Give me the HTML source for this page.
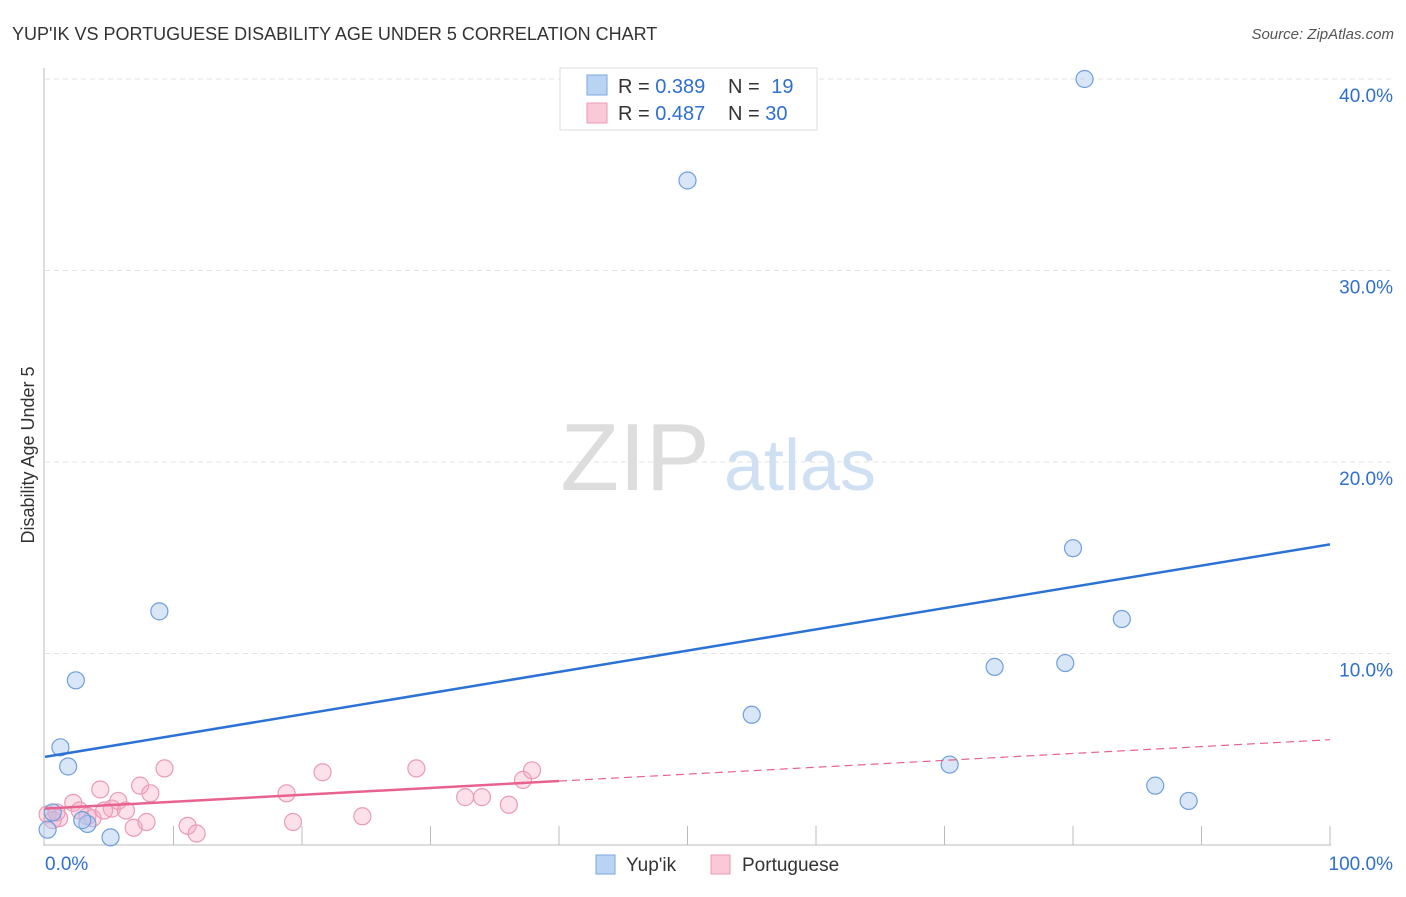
<!DOCTYPE html>
<html><head><meta charset="utf-8">
<style>
body{margin:0;background:#fff;font-family:"Liberation Sans",sans-serif;}
svg text{font-family:"Liberation Sans",sans-serif;}
</style></head>
<body>
<svg id="chart" width="1406" height="892" viewBox="0 0 1406 892">
<text x="12" y="40" font-size="18" fill="#333">YUP'IK VS PORTUGUESE DISABILITY AGE UNDER 5 CORRELATION CHART</text>
<text x="1394" y="39" font-size="15" fill="#555" font-style="italic" text-anchor="end">Source: ZipAtlas.com</text>
<text transform="translate(34,455) rotate(-90)" font-size="18" fill="#333" text-anchor="middle">Disability Age Under 5</text>
<g id="grid"></g>
<g>
<text x="635" y="490" font-size="96" fill="#ddd" font-family="Liberation Serif,serif" text-anchor="middle">ZIP</text>
<text x="800" y="490" font-size="72" fill="#cfe0f3" text-anchor="middle">atlas</text>
</g>
<g id="axes"></g>
<g id="marks"></g>
<g>
<rect x="560" y="68" width="257" height="62" fill="#fff" stroke="#ddd"/>
<rect x="587" y="75" width="20" height="20" fill="#b9d3f3" stroke="#7aa7e0"/>
<rect x="587" y="103" width="20" height="20" fill="#f9c9d8" stroke="#ec9ab4"/>
<text x="618" y="93" font-size="20" fill="#333">R = <tspan fill="#2f6fd0">0.389</tspan></text>
<text x="728" y="93" font-size="20" fill="#333">N = <tspan fill="#2f6fd0" dx="6">19</tspan></text>
<text x="618" y="120" font-size="20" fill="#333">R = <tspan fill="#2f6fd0">0.487</tspan></text>
<text x="728" y="120" font-size="20" fill="#333">N = <tspan fill="#2f6fd0">30</tspan></text>
</g>
<g>
<rect x="596" y="855" width="19" height="19" fill="#b9d3f3" stroke="#7aa7e0"/>
<text x="626" y="871" font-size="19" fill="#333">Yup'ik</text>
<rect x="711" y="855" width="19" height="19" fill="#f9c9d8" stroke="#ec9ab4"/>
<text x="742" y="871" font-size="19" fill="#333">Portuguese</text>
</g>
</svg>
<script>
const yTicks=[10,20,30,40];
const yTickLabels=["10.0%","20.0%","30.0%","40.0%"];
const xTickVals=[10,20,30,40,50,60,70,80,90,100];
const yupikX=[80.9,50.0,80.0,83.8,73.9,79.4,55.0,70.4,86.4,89.0,8.9,2.4,1.2,1.8,5.1,3.3,0.2,0.6,2.9];
const yupikY=[40.0,34.7,15.5,11.8,9.3,9.5,6.8,4.2,3.1,2.3,12.2,8.6,5.1,4.1,0.4,1.1,0.8,1.7,1.3];
const portX=[0.2,1.1,2.2,0.9,2.7,4.3,5.2,5.7,6.3,7.4,8.2,9.3,6.9,7.9,11.1,11.8,18.8,21.6,19.3,24.7,28.9,32.7,34.0,36.1,37.2,37.9,0.6,3.3,3.7,4.6];
const portY=[1.6,1.4,2.2,1.7,1.8,2.9,1.9,2.3,1.8,3.1,2.7,4.0,0.9,1.2,1.0,0.6,2.7,3.8,1.2,1.5,4.0,2.5,2.5,2.1,3.4,3.9,1.3,1.5,1.4,1.8];
const yupikTrend=[4.6,15.7];
const portTrend=[1.9,5.5];
const portSolidEnd=40;
const NS="http://www.w3.org/2000/svg";
const X=v=>45+v*12.85, Y=v=>845-v*19.15;
function mk(tag,attrs,parent){const e=document.createElementNS(NS,tag);for(const k in attrs)e.setAttribute(k,attrs[k]);parent.appendChild(e);return e;}
const grid=document.getElementById('grid'),axes=document.getElementById('axes'),marks=document.getElementById('marks');
yTicks.forEach((t,i)=>{
 const l=mk('line',{x1:45,x2:1395,y1:Y(t),y2:Y(t),stroke:'#e3e3e3','stroke-dasharray':'5,4'},grid);
 
 
 const tx=mk('text',{x:1393,y:Y(t)+23,'font-size':19,fill:'#2f6fd0','text-anchor':'end'},axes);
 tx.textContent=yTickLabels[i];
 
 
});
const ax=mk('line',{x1:44,x2:44,y1:68,y2:846,stroke:'#bbb'},axes);


const bx=mk('line',{x1:44,x2:1331,y1:845,y2:845,stroke:'#bbb'},axes);


xTickVals.forEach(t=>{
 const l=mk('line',{x1:X(t),x2:X(t),y1:826,y2:845,stroke:'#bbb'},axes);
 
 
});
const x0=mk('text',{x:45,y:870,'font-size':19,fill:'#2f6fd0'},axes);x0.textContent='0.0%';


const x1=mk('text',{x:1393,y:870,'font-size':19,fill:'#2f6fd0','text-anchor':'end'},axes);x1.textContent='100.0%';


portX.forEach((v,i)=>{
 const c=mk('circle',{cx:X(v),cy:Y(portY[i]),r:8.5,fill:'rgba(246,170,195,0.35)',stroke:'#eb9ab5','stroke-width':1.2},marks);
 
 
});
yupikX.forEach((v,i)=>{
 const c=mk('circle',{cx:X(v),cy:Y(yupikY[i]),r:8.5,fill:'rgba(170,200,240,0.45)',stroke:'#6f9fdc','stroke-width':1.2},marks);
 
 
});
const bl=mk('line',{x1:X(0),y1:Y(yupikTrend[0]),x2:X(100),y2:Y(yupikTrend[1]),stroke:'#2c72d6','stroke-width':2.5},marks);


const pm=portTrend[0]+(portTrend[1]-portTrend[0])*portSolidEnd/100;
const pl=mk('line',{x1:X(0),y1:Y(portTrend[0]),x2:X(portSolidEnd),y2:Y(pm),stroke:'#e8628f','stroke-width':2.5},marks);


const pd=mk('line',{x1:X(portSolidEnd),y1:Y(pm),x2:X(100),y2:Y(portTrend[1]),stroke:'#e8628f','stroke-width':1.2,'stroke-dasharray':'8,5'},marks);


</script>
</body></html>
